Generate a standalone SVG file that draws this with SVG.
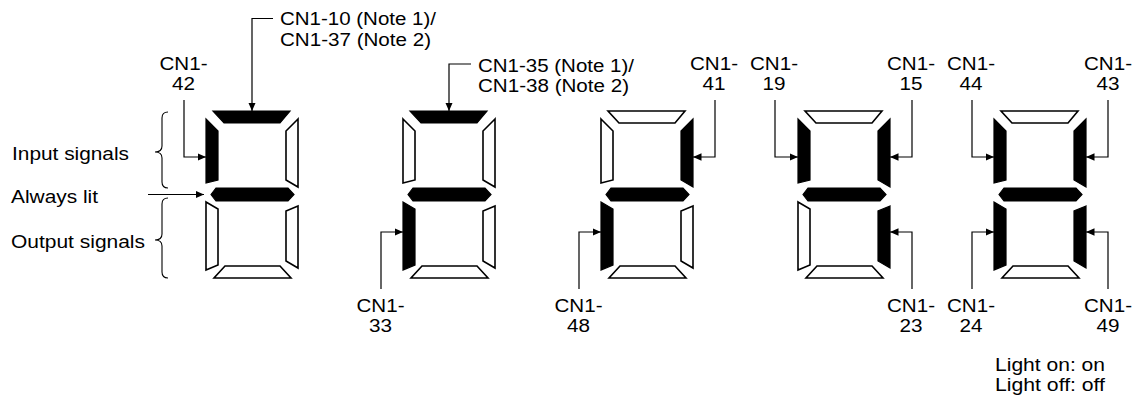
<svg xmlns="http://www.w3.org/2000/svg" width="1146" height="398" viewBox="0 0 1146 398">
<style>
text{font-family:"Liberation Sans",Arial,sans-serif;font-size:18.7px;fill:#000}
.m{text-anchor:middle}
.on{fill:#000;stroke:#000;stroke-width:1.2;stroke-linejoin:miter}
.off{fill:#fff;stroke:#000;stroke-width:1.6;stroke-linejoin:miter}
.ln{fill:none;stroke:#000;stroke-width:1.2}
.br{fill:none;stroke:#000;stroke-width:1.1}
</style>
<defs>
<marker id="ah" markerUnits="userSpaceOnUse" markerWidth="9" markerHeight="8" refX="8.5" refY="3.75" orient="auto">
<path d="M0,0 L8.5,3.75 L0,7.5 z" fill="#000"/>
</marker>
</defs>
<rect width="1146" height="398" fill="#fff"/>

<g id="legend-left">
<text x="12" y="160" textLength="117" lengthAdjust="spacingAndGlyphs">Input signals</text>
<text x="11" y="202.5" textLength="87" lengthAdjust="spacingAndGlyphs">Always lit</text>
<text x="11" y="248" textLength="134" lengthAdjust="spacingAndGlyphs">Output signals</text>
<path class="br" d="M168,112 Q162,112 162,118 V146 Q162,152 155,152 Q162,152 162,158 V182 Q162,188 168,188"/>
<path class="br" d="M168,198 Q162,198 162,204 V234 Q162,240 155,240 Q162,240 162,246 V272 Q162,278 168,278"/>
</g>

<g id="digit1" transform="translate(206,111)">
<polygon class="on" points="7,0 84,0 74,12 18,12"/>
<polygon class="on" points="0,8 12,20 12,69 0,72"/>
<polygon class="off" points="92,8 80,20 80,69 92,76"/>
<polygon class="on" points="5,83.5 10,77 82,77 88,83.5 82,90 10,90"/>
<polygon class="off" points="0,91 12,98 12,154 0,159"/>
<polygon class="off" points="92,95 80,100 80,150 92,157"/>
<polygon class="off" points="19,155 74,155 85,167 8,167"/>
</g>
<g id="digit2" transform="translate(403,111)">
<polygon class="on" points="7,0 84,0 74,12 18,12"/>
<polygon class="off" points="0,8 12,20 12,69 0,72"/>
<polygon class="off" points="92,8 80,20 80,69 92,76"/>
<polygon class="on" points="5,83.5 10,77 82,77 88,83.5 82,90 10,90"/>
<polygon class="on" points="0,91 12,98 12,154 0,159"/>
<polygon class="off" points="92,95 80,100 80,150 92,157"/>
<polygon class="off" points="19,155 74,155 85,167 8,167"/>
</g>
<g id="digit3" transform="translate(601,111)">
<polygon class="off" points="7,0 84,0 74,12 18,12"/>
<polygon class="off" points="0,8 12,20 12,69 0,72"/>
<polygon class="on" points="92,8 80,20 80,69 92,76"/>
<polygon class="on" points="5,83.5 10,77 82,77 88,83.5 82,90 10,90"/>
<polygon class="on" points="0,91 12,98 12,154 0,159"/>
<polygon class="off" points="92,95 80,100 80,150 92,157"/>
<polygon class="off" points="19,155 74,155 85,167 8,167"/>
</g>
<g id="digit4" transform="translate(798,111)">
<polygon class="off" points="7,0 84,0 74,12 18,12"/>
<polygon class="on" points="0,8 12,20 12,69 0,72"/>
<polygon class="on" points="92,8 80,20 80,69 92,76"/>
<polygon class="on" points="5,83.5 10,77 82,77 88,83.5 82,90 10,90"/>
<polygon class="off" points="0,91 12,98 12,154 0,159"/>
<polygon class="on" points="92,95 80,100 80,150 92,157"/>
<polygon class="off" points="19,155 74,155 85,167 8,167"/>
</g>
<g id="digit5" transform="translate(994,111)">
<polygon class="off" points="7,0 84,0 74,12 18,12"/>
<polygon class="on" points="0,8 12,20 12,69 0,72"/>
<polygon class="on" points="92,8 80,20 80,69 92,76"/>
<polygon class="on" points="5,83.5 10,77 82,77 88,83.5 82,90 10,90"/>
<polygon class="on" points="0,91 12,98 12,154 0,159"/>
<polygon class="on" points="92,95 80,100 80,150 92,157"/>
<polygon class="off" points="19,155 74,155 85,167 8,167"/>
</g>

<g id="connectors">
<path class="ln" d="M148,194.5 H204" marker-end="url(#ah)"/>
<path class="ln" d="M273,18.5 H252 V111" marker-end="url(#ah)"/>
<path class="ln" d="M184,100 V157 H206" marker-end="url(#ah)"/>
<path class="ln" d="M471,64 H449 V111" marker-end="url(#ah)"/>
<path class="ln" d="M381,289 V232 H403" marker-end="url(#ah)"/>
<path class="ln" d="M715,100 V157 H693" marker-end="url(#ah)"/>
<path class="ln" d="M579,289 V232 H601" marker-end="url(#ah)"/>
<path class="ln" d="M775,100 V157 H798" marker-end="url(#ah)"/>
<path class="ln" d="M912,100 V157 H890" marker-end="url(#ah)"/>
<path class="ln" d="M912,289 V232 H890" marker-end="url(#ah)"/>
<path class="ln" d="M972,100 V157 H994" marker-end="url(#ah)"/>
<path class="ln" d="M1108,100 V157 H1086" marker-end="url(#ah)"/>
<path class="ln" d="M972,289 V232 H994" marker-end="url(#ah)"/>
<path class="ln" d="M1108,289 V232 H1086" marker-end="url(#ah)"/>
</g>

<g id="labels">
<text x="280" y="25" textLength="156" lengthAdjust="spacingAndGlyphs">CN1-10 (Note 1)/</text>
<text x="280" y="46" textLength="151" lengthAdjust="spacingAndGlyphs">CN1-37 (Note 2)</text>
<text x="478" y="71.5" textLength="156" lengthAdjust="spacingAndGlyphs">CN1-35 (Note 1)/</text>
<text x="478" y="91.5" textLength="151" lengthAdjust="spacingAndGlyphs">CN1-38 (Note 2)</text>

<text class="m" x="183.5" y="70" textLength="48" lengthAdjust="spacingAndGlyphs">CN1-</text>
<text class="m" x="183.5" y="90" textLength="23" lengthAdjust="spacingAndGlyphs">42</text>
<text class="m" x="714" y="70" textLength="48" lengthAdjust="spacingAndGlyphs">CN1-</text>
<text class="m" x="714" y="90" textLength="23" lengthAdjust="spacingAndGlyphs">41</text>
<text class="m" x="774" y="70" textLength="48" lengthAdjust="spacingAndGlyphs">CN1-</text>
<text class="m" x="774" y="90" textLength="23" lengthAdjust="spacingAndGlyphs">19</text>
<text class="m" x="911" y="70" textLength="48" lengthAdjust="spacingAndGlyphs">CN1-</text>
<text class="m" x="911" y="90" textLength="23" lengthAdjust="spacingAndGlyphs">15</text>
<text class="m" x="971" y="70" textLength="48" lengthAdjust="spacingAndGlyphs">CN1-</text>
<text class="m" x="971" y="90" textLength="23" lengthAdjust="spacingAndGlyphs">44</text>
<text class="m" x="1108" y="70" textLength="48" lengthAdjust="spacingAndGlyphs">CN1-</text>
<text class="m" x="1108" y="90" textLength="23" lengthAdjust="spacingAndGlyphs">43</text>

<text class="m" x="380.5" y="312" textLength="48" lengthAdjust="spacingAndGlyphs">CN1-</text>
<text class="m" x="380.5" y="332" textLength="23" lengthAdjust="spacingAndGlyphs">33</text>
<text class="m" x="578.5" y="312" textLength="48" lengthAdjust="spacingAndGlyphs">CN1-</text>
<text class="m" x="578.5" y="332" textLength="23" lengthAdjust="spacingAndGlyphs">48</text>
<text class="m" x="911" y="312" textLength="48" lengthAdjust="spacingAndGlyphs">CN1-</text>
<text class="m" x="911" y="332" textLength="23" lengthAdjust="spacingAndGlyphs">23</text>
<text class="m" x="971" y="312" textLength="48" lengthAdjust="spacingAndGlyphs">CN1-</text>
<text class="m" x="971" y="332" textLength="23" lengthAdjust="spacingAndGlyphs">24</text>
<text class="m" x="1108" y="312" textLength="48" lengthAdjust="spacingAndGlyphs">CN1-</text>
<text class="m" x="1108" y="332" textLength="23" lengthAdjust="spacingAndGlyphs">49</text>

<text x="995" y="370.5" textLength="110" lengthAdjust="spacingAndGlyphs">Light on: on</text>
<text x="995" y="391" textLength="110" lengthAdjust="spacingAndGlyphs">Light off: off</text>
</g>
</svg>
